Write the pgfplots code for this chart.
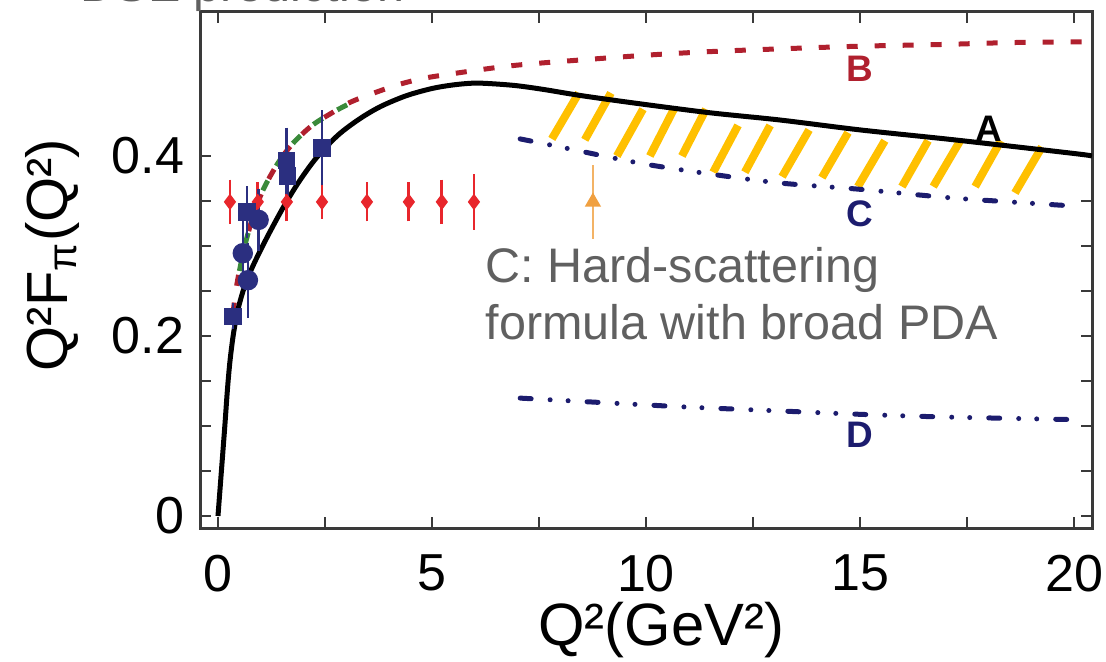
\documentclass[border=0pt]{standalone}
\usepackage{fontspec}
\setmainfont{Liberation Sans}
\usepackage{pgfplots}
\pgfplotsset{compat=1.18}
\definecolor{bred}{HTML}{B0202E}
\definecolor{navy}{HTML}{1C1C6E}
\definecolor{ptblue}{HTML}{2B2F80}
\definecolor{dsegreen}{HTML}{3A8A3A}
\definecolor{hatch}{HTML}{FFC000}
\definecolor{orng}{HTML}{F0A040}
\definecolor{dred}{HTML}{E8262C}
\definecolor{annot}{HTML}{606060}
\definecolor{frame}{HTML}{3A3A3A}

\begin{document}
\begin{tikzpicture}
\begin{axis}[
  at={(0,0)}, anchor=south west,
  scale only axis, width=89.2mm, height=51.6mm,
  xmin=-0.42, xmax=20.42, ymin=-0.0133, ymax=0.56,
  xtick={0,5,...,20}, ytick={0,0.2,0.4},
  minor x tick num=1, minor y tick num=3,
  tick align=inside, major tick length=1.1mm, minor tick length=1.1mm,
  axis line style={frame, line width=0.3mm},
  tick style={frame, line width=0.25mm},
  /pgf/number format/assume math mode=true,
  tick label style={font=\fontsize{14.8}{16}\selectfont, inner sep=0pt},
  xticklabel style={yshift=-2.6mm},
  yticklabel style={xshift=-1.5mm},
  xlabel={Q²(GeV²)},
  ylabel={Q²F\textsubscript{π}(Q²)},
  xlabel style={at={(axis description cs:0.517,-0.198)}, anchor=center, inner sep=0pt, font=\fontsize{17}{19}\selectfont},
  ylabel style={at={(axis description cs:-0.165,0.529)}, anchor=center, inner sep=0pt, font=\fontsize{16.5}{18}\selectfont},
]
% hatched band between A and C
\addplot[hatch, line width=0.8mm, line cap=butt, unbounded coords=jump] coordinates {
  (7.80,0.419) (8.43,0.470) (8.5,nan)
  (8.57,0.418) (9.18,0.470) (9.2,nan)
  (9.32,0.400) (9.93,0.452) (10,nan)
  (10.09,0.400) (10.65,0.452) (10.7,nan)
  (10.84,0.400) (11.40,0.452) (11.5,nan)
  (11.57,0.382) (12.15,0.434) (12.2,nan)
  (12.31,0.382) (12.90,0.434) (13,nan)
  (13.18,0.377) (13.81,0.429) (13.9,nan)
  (14.11,0.376) (14.72,0.426) (14.8,nan)
  (14.95,0.366) (15.58,0.417) (15.6,nan)
  (15.98,0.366) (16.59,0.417) (16.6,nan)
  (16.71,0.366) (17.34,0.417) (17.4,nan)
  (17.69,0.366) (18.29,0.417) (18.4,nan)
  (18.62,0.359) (19.25,0.410)
};
% B
\addplot[bred, line width=0.5mm, smooth, dash pattern=on 1.1mm off 1.7mm] coordinates {
  (0.35,0.225) (0.44,0.257) (0.6,0.295) (0.8,0.33) (1.05,0.362) (1.4,0.392)
  (1.75,0.414) (2.2,0.434) (2.7,0.449) (3.15,0.461) (4.0,0.476) (4.5,0.483)
  (5.0,0.488) (6.3,0.497) (7.0,0.501) (8.0,0.505) (10,0.512) (11.5,0.516)
  (13.1,0.519) (15,0.522) (17,0.524) (18.5,0.526) (20.42,0.527)
};
% DSE (green)
\addplot[dsegreen, line width=0.5mm, smooth, dash pattern=on 1.1mm off 1.7mm, dash phase=1.4mm] coordinates {
  (0.44,0.257) (0.6,0.295) (0.8,0.33) (1.05,0.362) (1.4,0.392)
  (1.75,0.414) (2.2,0.434) (2.7,0.449) (3.15,0.460)
};
% A
\addplot[black, line width=0.5mm, smooth] coordinates {
  (0,0) (0.08,0.05) (0.16,0.10) (0.22,0.14) (0.28,0.172) (0.36,0.202)
  (0.46,0.228) (0.6,0.252) (0.78,0.274) (1.0,0.296) (1.25,0.319)
  (1.55,0.345) (1.9,0.372) (2.3,0.398) (2.8,0.423) (3.3,0.441)
  (3.8,0.455) (4.4,0.467) (5.0,0.475) (5.5,0.479) (6.0,0.481)
  (6.5,0.480) (7.0,0.478) (7.6,0.474) (8.5,0.467) (9.86,0.458)
  (11.5,0.448) (13.13,0.440) (15,0.429) (17,0.419) (18.5,0.411)
  (20.14,0.402) (20.42,0.400)
};
% C
\addplot[navy, line width=0.5mm, line cap=round, smooth,
  dash pattern=on 1.1mm off 1.9mm on 0mm off 1.8mm on 0mm off 1.9mm] coordinates {
  (7.06,0.419) (8,0.410) (9.86,0.392) (11.5,0.380) (13.13,0.370)
  (15,0.363) (17,0.354) (18.5,0.349) (20.14,0.344)
};
% D
\addplot[navy, line width=0.5mm, line cap=round, smooth,
  dash pattern=on 1.1mm off 1.9mm on 0mm off 1.8mm on 0mm off 1.9mm] coordinates {
  (7.06,0.131) (9,0.126) (11,0.121) (13,0.117) (15,0.113) (17,0.110) (20.14,0.107)
};
% red data
\addplot[dred, only marks, mark=diamond*, mark size=2pt,
  error bars/.cd, y dir=both, y explicit,
  error bar style={line width=0.8pt}, error mark options={line width=0.8pt, mark size=0.6mm}]
  coordinates {
  (0.28,0.349) +- (0,0.018)
  (0.93,0.349) +- (0,0.015)
  (1.61,0.349) +- (0,0.015)
  (2.43,0.349) +- (0,0.012)
  (3.48,0.349) +- (0,0.015)
  (4.46,0.349) +- (0,0.015)
  (5.23,0.349) +- (0,0.018)
  (5.98,0.349) +- (0,0.024)
};
% blue squares
\addplot[ptblue, only marks, mark=square*, mark size=0.8mm,
  error bars/.cd, y dir=both, y explicit,
  error bar style={line width=0.7pt}, error mark options={line width=0.7pt, mark size=0.6mm}]
  coordinates {
  (0.35,0.222) +- (0,0.008)
  (0.68,0.338) +- (0,0.022)
  (1.60,0.395) +- (0,0.030)
  (1.62,0.378) +- (0,0.020)
  (2.43,0.409) +- (0,0.035)
};
% blue circles
\addplot[ptblue, only marks, mark=*, mark size=0.95mm,
  error bars/.cd, y dir=both, y explicit,
  error bar style={line width=0.7pt}, error mark options={line width=0.7pt, mark size=0.6mm}]
  coordinates {
  (0.58,0.292) +- (0,0.030)
  (0.70,0.262) +- (0,0.035)
  (0.95,0.329) +- (0,0.028)
};
% orange point
\addplot[orng, only marks, mark=triangle*, mark size=0.8mm,
  error bars/.cd, y dir=both, y explicit,
  error bar style={line width=0.6pt, orng!80}, error mark options={line width=0.6pt, mark size=0.6mm}]
  coordinates {
  (8.76,0.349) +- (0,0.034)
};
\node[text=bred, font=\bfseries\fontsize{10.5}{12}\selectfont] at (axis cs:15.0,0.497) {B};
\node[text=black, font=\bfseries\fontsize{10.5}{12}\selectfont] at (axis cs:18.0,0.430) {A};
\node[text=navy, font=\bfseries\fontsize{10.5}{12}\selectfont] at (axis cs:15.0,0.336) {C};
\node[text=navy, font=\bfseries\fontsize{10.5}{12}\selectfont] at (axis cs:15.0,0.090) {D};
\node[anchor=base west, inner sep=0pt, text=annot, font=\fontsize{13.8}{16}\selectfont] at (axis cs:6.24,0.260) {C: Hard-scattering};
\node[anchor=base west, inner sep=0pt, text=annot, font=\fontsize{13.8}{16}\selectfont] at (axis cs:6.24,0.1956) {formula with broad PDA};
\end{axis}
\node[anchor=base west, inner sep=0pt, text=annot, font=\fontsize{13.8}{16}\selectfont] at (-12mm,52.6mm) {DSE prediction};
\pgfresetboundingbox
\useasboundingbox (-20mm,-13.3mm) rectangle (90.6mm,52.8mm);
\end{tikzpicture}
\end{document}
